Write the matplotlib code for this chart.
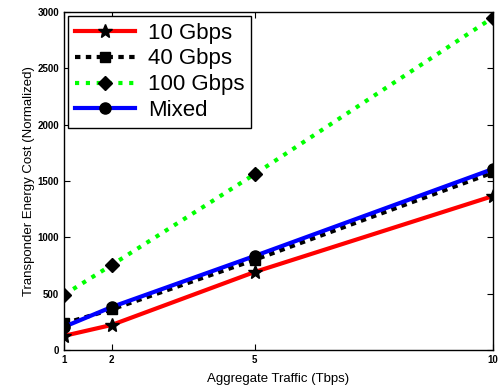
import matplotlib
matplotlib.use('Agg')
import matplotlib.pyplot as plt

# Datos
trafico = [1, 2, 5, 10]
g10 = [125, 222, 692, 1366]
g40 = [235, 360, 800, 1575]
g100 = [490, 754, 1560, 2950]
mixto = [205, 381, 834, 1606]

plt.rcParams['font.family'] = ['Liberation Sans', 'DejaVu Sans']

fig = plt.figure(figsize=(5.02, 3.85), dpi=100)
ax = fig.add_axes([0.1275, 0.091, 0.8545, 0.878])

ax.plot(trafico, g10, color='red', lw=3, marker='*', ms=10,
        mfc='black', mec='black', label='10 Gbps')
ax.plot(trafico, g40, color='black', lw=3, ls=(0, (1.3, 1.3)), marker='s', ms=7,
        mfc='black', mec='black', label='40 Gbps')
ax.plot(trafico, g100, color='#00ff00', lw=3, ls=(0, (1, 1.6)), marker='D', ms=7,
        mfc='black', mec='black', label='100 Gbps')
ax.plot(trafico, mixto, color='blue', lw=3, marker='o', ms=8,
        mfc='black', mec='black', label='Mixed')

ax.set_xlim(1, 10)
ax.set_ylim(0, 3000)
ax.set_xticks(trafico)
ax.set_yticks(range(0, 3001, 500))
ax.tick_params(direction='in', top=True, right=True, labelsize=7, length=4)
for lab in ax.get_xticklabels() + ax.get_yticklabels():
    lab.set_fontweight('bold')
for s in ax.spines.values():
    s.set_linewidth(1)

ax.set_xlabel('Aggregate Traffic (Tbps)', fontsize=9.5, labelpad=6)
ax.set_ylabel('Transponder Energy Cost (Normalized)', fontsize=9.5, labelpad=2)

leg = ax.legend(loc='upper left', fontsize=16, handlelength=2.7, fancybox=False,
                edgecolor='black', framealpha=1, borderpad=0.3, labelspacing=0.22,
                handletextpad=0.6, borderaxespad=0.18)
leg.get_frame().set_linewidth(1)

fig.savefig('out.png', dpi=100)
